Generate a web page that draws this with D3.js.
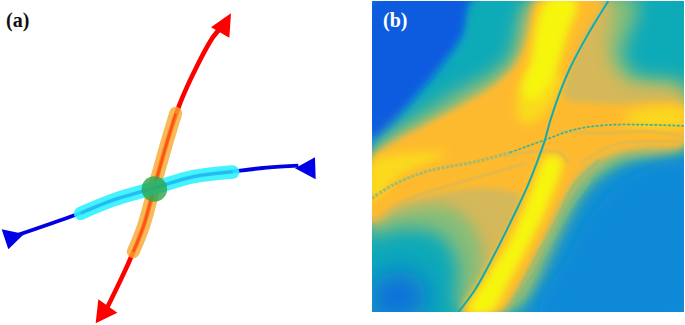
<!DOCTYPE html>
<html>
<head>
<meta charset="utf-8">
<script src="https://cdn.jsdelivr.net/npm/d3@7"></script>
<style>
  html, body { margin: 0; padding: 0; background: #fff; }
  svg { display: block; }
  text { font-family: "Liberation Serif", serif; font-weight: bold; font-size: 20px; }
</style>
</head>
<body>
<svg id="chart" width="685" height="325"></svg>
<script>
// ! PANEL A : manifolds (x, y in sketch units)
const unstableCurve = [[318,930],[385,790],[430,680],[462,565],[500,430],[540,310],[590,200],[640,110],[668,78]];
const stableCurve = [[50,706],[225,645],[340,600],[460,565],[580,530],[710,513],[800,503],[895,497]];
const unstableBand = [[400,755],[430,680],[462,565],[500,430],[527,340]];
const stableBand = [[242,640],[340,600],[460,565],[580,530],[698,516]];
const saddlePoint = [[463,567]];
const unstableHeads = [
  [[693,40],[633,82],[688,113]],
  [[287,970],[295,898],[352,938]]
];
const stableHeads = [
  [[5,688],[25,748],[72,702]],
  [[945,472],[947,538],[885,505]]
];

// ! PANEL B : regions of the map, each with its level on the colour scale
const colourStops = [0.15,0.25,0.33,0.42,0.52,0.62,0.72,0.85,1];
const colourNames = ["#1058e0","#1080dc","#0c98cf","#0caab8","#32b5a0","#88bd78","#d4b85a","#feba2e","#f6f60e"];

const regionLevels = [0.16,0.42,0.62,0.72,0.85,0.93,0.93,0.93,1,1,0.2,0.28];
const regionBlurs = [4,4,9,7,3,5,6,5,5,4,14,8];
const regions = [
  // dark blue top left
  [[36,0],[345,0],[315,100],[245,195],[170,285],[100,365],[36,420]],
  // teal around the cross
  [[340,0],[972,0],[972,445],[850,470],[720,525],[625,640],[545,790],[460,937],[36,937],[36,445],[100,385],[170,300],[245,210],[310,110]],
  // green fringe
  [[36,470],[250,300],[440,180],[510,0],[830,0],[790,170],[830,225],[972,250],[972,445],[800,480],[680,560],[600,700],[500,900],[440,937],[300,937],[290,780],[230,700],[100,690],[36,710]],
  // tan shoulders
  [[36,480],[300,320],[470,190],[530,0],[745,0],[745,170],[790,240],[972,285],[972,435],[760,470],[650,560],[560,720],[460,900],[330,937],[370,790],[340,680],[260,620],[100,640],[36,675]],
  // orange cross
  [[36,478],[110,425],[200,375],[300,320],[400,260],[470,190],[510,90],[535,0],[725,0],[680,90],[630,210],[610,290],[750,312],[972,322],[972,432],[850,440],[740,465],[660,515],[615,585],[565,685],[515,785],[465,875],[420,937],[305,937],[365,840],[415,740],[465,640],[480,590],[380,565],[250,578],[120,612],[36,665]],
  // yellow left arm
  [[36,490],[130,462],[260,462],[130,520],[36,600]],
  // pale yellow right arm
  [[800,345],[972,330],[972,372],[800,368]],
  // pale yellow under the upper band
  [[510,210],[600,230],[545,350],[490,370],[470,330]],
  // yellow upper band
  [[560,0],[650,0],[620,110],[580,230],[520,300],[490,280],[510,190]],
  // yellow lower band
  [[560,470],[605,478],[570,600],[515,720],[445,850],[392,937],[325,937],[375,840],[445,730],[495,620],[530,530]],
  // blue bottom left
  [[36,860],[90,820],[170,830],[200,900],[170,950],[36,950]],
  // blue lower right
  [[540,937],[620,780],[700,640],[800,540],[972,490],[972,937]]
];

const fringeLevels = [0.72,0.72,0.72,0.72,0.62,0.6];
const fringeLines = [
  [[36,665],[150,595],[300,548],[500,490]],
  [[430,470],[530,455],[600,458],[625,490]],
  [[600,395],[720,400],[860,395],[972,410]],
  [[660,490],[760,435],[860,425],[972,425]],
  [[440,937],[520,790],[590,660],[640,560],[720,480]],
  [[470,900],[550,770],[620,640],[690,540]]
];

const thinLine = [[745,3],[680,110],[630,205],[595,290],[570,365],[555,420],[530,490],[500,565],[460,650],[400,770],[345,870],[295,937]];
const dottedLeft = [[36,595],[100,555],[200,515],[350,485],[450,458]];
const dottedRight = [[450,458],[555,420],[640,390],[750,375],[972,378]];

const sketchX = d3.scaleLinear().domain([0,1020]).range([0,340]);
const sketchY = d3.scaleLinear().domain([0,975]).range([0,325]);
const mapX = d3.scaleLinear().domain([36,972]).range([372,684]);
const mapY = d3.scaleLinear().domain([3,937]).range([1,312]);
const colour = d3.scaleLinear().domain(colourStops).range(colourNames);

const svg = d3.select("#chart");
const defs = svg.append("defs");

// ! ONE BLUR FILTER PER SIZE
function blurId(size) {
  const id = "blur" + String(size).replace(".","_");
  if (defs.select("#" + id).empty()) {
    defs.append("filter").attr("id",id)
      .attr("filterUnits","userSpaceOnUse")
      .attr("x",-100).attr("y",-100).attr("width",900).attr("height",600)
      .append("feGaussianBlur").attr("stdDeviation",size);
  }
  return "url(#" + id + ")";
}

defs.append("clipPath").attr("id","mapClip").append("rect")
  .attr("x",mapX(36)).attr("y",mapY(3))
  .attr("width",mapX(972)-mapX(36)).attr("height",mapY(937)-mapY(3));

// ---------- panel a ----------
const sketchLine = d3.line().x(d => sketchX(d[0])).y(d => sketchY(d[1])).curve(d3.curveCatmullRom);
const sketchHead = d3.line().x(d => sketchX(d[0])).y(d => sketchY(d[1])).curve(d3.curveLinearClosed);

const panelA = svg.append("g").attr("filter",blurId(0.5));

panelA.append("path").attr("d",sketchLine(unstableCurve))
  .attr("fill","none").attr("stroke","#ff0000").attr("stroke-width",4.6);
panelA.selectAll(".uh").data(unstableHeads).join("path").attr("class","uh")
  .attr("d",sketchHead).attr("fill","#ff0000");

panelA.append("path").attr("d",sketchLine(stableCurve))
  .attr("fill","none").attr("stroke","#0000e0").attr("stroke-width",3.8);
panelA.selectAll(".sh").data(stableHeads).join("path").attr("class","sh")
  .attr("d",sketchHead).attr("fill","#0000e6");

panelA.append("path").attr("d",sketchLine(unstableBand))
  .attr("fill","none").attr("stroke","#f8a830").attr("stroke-opacity",0.8)
  .attr("stroke-width",13).attr("stroke-linecap","round");
panelA.append("path").attr("d",sketchLine(unstableBand))
  .attr("fill","none").attr("stroke","#ff4a10").attr("stroke-opacity",0.85)
  .attr("stroke-width",2.6);
panelA.append("path").attr("d",sketchLine(stableBand))
  .attr("fill","none").attr("stroke","#30f2ff").attr("stroke-opacity",0.9)
  .attr("stroke-width",13.5).attr("stroke-linecap","round");
panelA.append("path").attr("d",sketchLine(stableBand))
  .attr("fill","none").attr("stroke","#20b4f0").attr("stroke-opacity",0.8)
  .attr("stroke-width",3);
panelA.selectAll("circle").data(saddlePoint).join("circle")
  .attr("cx",d => sketchX(d[0])).attr("cy",d => sketchY(d[1])).attr("r",12.8)
  .attr("fill","#2fa650").attr("fill-opacity",0.82);

svg.append("text").attr("x",6).attr("y",27).attr("fill","#111").text("(a)");

// ---------- panel b ----------
const mapLine = d3.line().x(d => mapX(d[0])).y(d => mapY(d[1])).curve(d3.curveCatmullRom);
const mapShape = d3.line().x(d => mapX(d[0])).y(d => mapY(d[1])).curve(d3.curveCatmullRomClosed);

const panelB = svg.append("g").attr("clip-path","url(#mapClip)");
panelB.append("rect")
  .attr("x",mapX(36)).attr("y",mapY(3))
  .attr("width",mapX(972)-mapX(36)).attr("height",mapY(937)-mapY(3))
  .attr("fill",colour(0.3));

panelB.selectAll(".region").data(regions).join("path").attr("class","region")
  .attr("d",mapShape)
  .attr("fill",(d,i) => colour(regionLevels[i]))
  .attr("filter",(d,i) => blurId(regionBlurs[i]));

panelB.selectAll(".fringe").data(fringeLines).join("path").attr("class","fringe")
  .attr("d",mapLine).attr("fill","none")
  .attr("stroke",(d,i) => colour(fringeLevels[i]))
  .attr("stroke-width",2).attr("filter",blurId(0.8));

panelB.append("path").attr("d",mapLine(dottedLeft)).attr("fill","none")
  .attr("stroke",colour(0.66)).attr("stroke-width",3.2)
  .attr("stroke-dasharray","3 1.5").attr("filter",blurId(0.5));
panelB.append("path").attr("d",mapLine(dottedRight)).attr("fill","none")
  .attr("stroke",colour(0.52)).attr("stroke-width",1.7)
  .attr("stroke-dasharray","3 1.5").attr("filter",blurId(0.3));
panelB.append("path").attr("d",mapLine(thinLine)).attr("fill","none")
  .attr("stroke",colour(0.43)).attr("stroke-width",2).attr("filter",blurId(0.4));

svg.append("text").attr("x",383).attr("y",27).attr("fill","#fff").text("(b)");
</script>
</body>
</html>
